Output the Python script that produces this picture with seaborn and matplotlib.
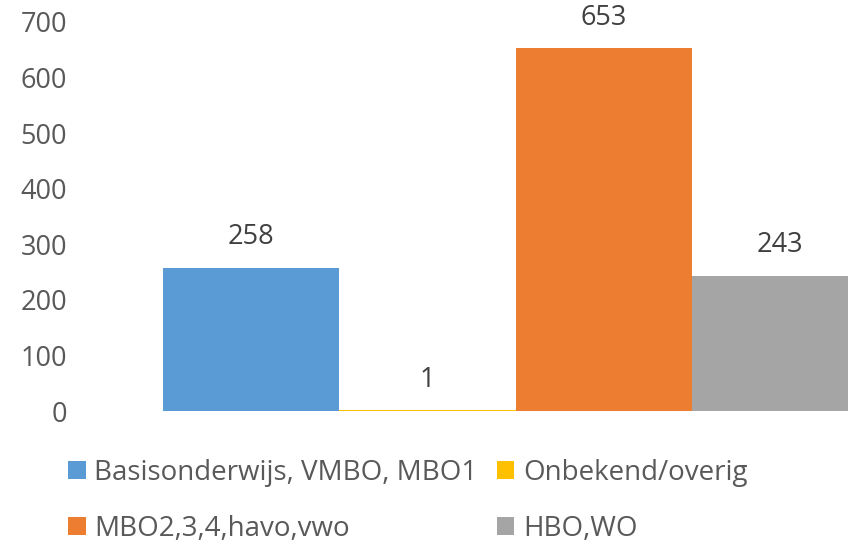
import matplotlib
matplotlib.use("Agg")
import matplotlib.pyplot as plt
import seaborn as sns
import pandas as pd
from matplotlib.patches import Patch

categories = ["Basisonderwijs, VMBO, MBO1", "Onbekend/overig", "MBO2,3,4,havo,vwo", "HBO,WO"]
values = [258, 1, 653, 243]
colors = ["#5B9BD5", "#FFC000", "#ED7D31", "#A5A5A5"]
yticks = [0, 100, 200, 300, 400, 500, 600, 700]

sns.set_theme(style="white")
plt.rcParams['font.family'] = ['Open Sans', 'DejaVu Sans']

W, H = 848, 545
fig = plt.figure(figsize=(W / 100, H / 100), dpi=100)
ax = fig.add_axes([163 / W, (H - 411) / H, (868 - 163) / W, (411 - 22) / H])

df = pd.DataFrame({"cat": categories, "val": values})
sns.barplot(data=df, x="cat", y="val", hue="cat", palette=colors, width=1.0,
            legend=False, ax=ax, saturation=1, linewidth=0)

ax.set_xlim(-0.5, 3.5)
ax.set_ylim(0, 700)
ax.set_yticks(yticks)
ax.set_yticklabels([str(t) for t in yticks])
ax.set_xticks([])
ax.set_xlabel("")
ax.set_ylabel("")
for s in ax.spines.values():
    s.set_visible(False)
ax.tick_params(axis="y", length=0, pad=69, labelsize=19.5, labelcolor="#595959")

for i, v in enumerate(values):
    ax.annotate(str(v), (i, v), xytext=(0, 22), textcoords="offset points",
                ha="center", va="center", fontsize=19.5, color="#404040")

handles = [Patch(facecolor=c, edgecolor="none") for c in colors]
order = [0, 2, 1, 3]
fs = 20
fig.legend([handles[i] for i in order], [categories[i] for i in order],
           ncol=2, loc="upper left", bbox_to_anchor=(68 / W, 1 - 459 / H),
           frameon=False, fontsize=fs, labelcolor="#595959",
           handlelength=0.63, handleheight=0.63, handletextpad=0.32,
           columnspacing=0.68, labelspacing=1.01, borderaxespad=0, borderpad=0)

fig.savefig("out.png", dpi=100)
